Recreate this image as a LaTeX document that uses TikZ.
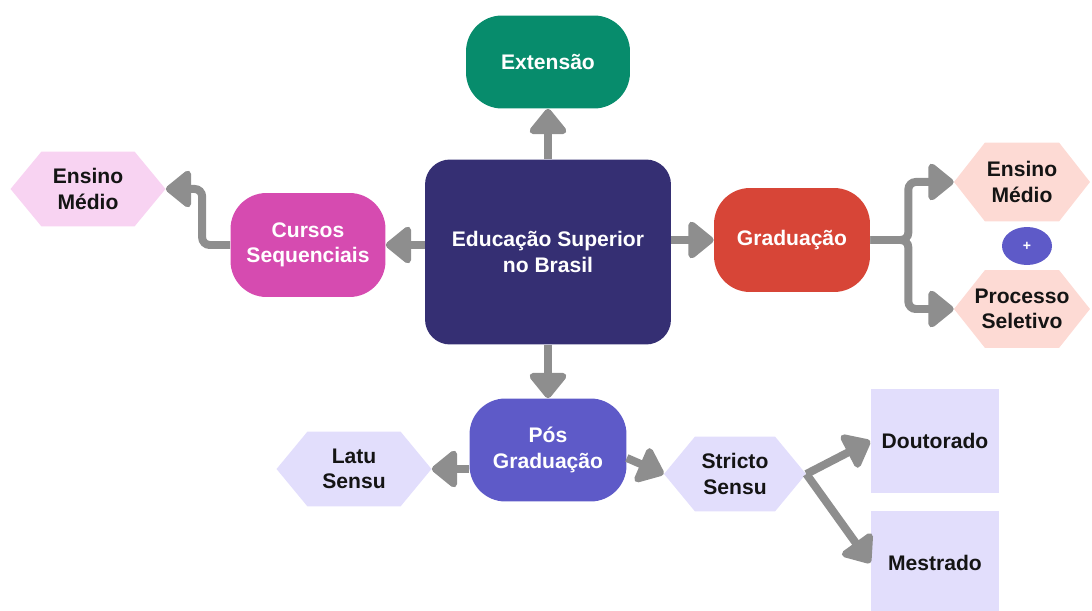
\documentclass[tikz,border=0pt]{standalone}
\usepackage{fontspec}
\setmainfont{Liberation Sans}
\usetikzlibrary{arrows.meta, shapes.geometric}
\definecolor{extgreen}{HTML}{078C6C}
\definecolor{basenavy}{HTML}{352F73}
\definecolor{cursopink}{HTML}{D64BB0}
\definecolor{gradred}{HTML}{D74537}
\definecolor{posviolet}{HTML}{5E5AC8}
\definecolor{hexpink}{HTML}{F8D3F2}
\definecolor{hexsalmon}{HTML}{FDDAD4}
\definecolor{hexlilac}{HTML}{E2DEFC}
\definecolor{arrowgray}{HTML}{8E8E8E}
\definecolor{ink}{HTML}{141414}
\tikzset{
    every node/.style={font=\fontsize{12}{14.5}\selectfont\bfseries, align=center},
    blob/.style={rectangle, rounded corners=0.72cm, text=white},
    hex/.style={rectangle, inner sep=0pt, text=ink, minimum width=3.1cm,
    	minimum height=1.5cm,
    	path picture={\fill[#1] (path picture bounding box.west)
    	  -- ([xshift=0.62cm]path picture bounding box.north west)
    	  -- ([xshift=-0.62cm]path picture bounding box.north east)
    	  -- (path picture bounding box.east)
    	  -- ([xshift=-0.62cm]path picture bounding box.south east)
    	  -- ([xshift=0.62cm]path picture bounding box.south west) -- cycle;}},
    card/.style={rectangle, fill=hexlilac, text=ink, minimum width=2.58cm,
    	minimum height=2.1cm},
    arr/.style={draw=arrowgray, line width=0.16cm,
    	-{Triangle[length=0.55cm, width=0.85cm, round]}}
}

\begin{document}
\begin{tikzpicture}[x=0.02cm, y=-0.02cm]
  \useasboundingbox (0,0) rectangle (1092,611);
  \node (ext) [blob, fill=extgreen, minimum width=3.28cm, minimum height=1.86cm] at (548,62) {Extensão};
  \node (edu) [blob, fill=basenavy, rounded corners=0.5cm, minimum width=4.92cm, minimum height=3.7cm] at (548,252) {Educação Superior\\no Brasil};
  \node (cursos) [blob, fill=cursopink, minimum width=3.1cm, minimum height=2.08cm] at (308,245) {Cursos\\Sequenciais};
  \node (grad) [blob, fill=gradred, minimum width=3.12cm, minimum height=2.08cm] at (792,240) {Graduação};
  \node (pos) [blob, fill=posviolet, minimum width=3.14cm, minimum height=2.06cm] at (548,450) {Pós\\Graduação};
  \node (ens_l) [hex=hexpink] at (88,189) {Ensino\\Médio};
  \node (ens_r) [hex=hexsalmon, minimum width=2.72cm, minimum height=1.58cm] at (1022,182) {Ensino\\Médio};
  \node (plus) [ellipse, fill=posviolet, text=white, minimum width=1cm, minimum height=0.76cm, font=\footnotesize\bfseries] at (1027,246) {+};
  \node (proc) [hex=hexsalmon, minimum width=2.72cm, minimum height=1.56cm] at (1022,309) {Processo\\Seletivo};
  \node (latu) [hex=hexlilac] at (354,469) {Latu\\Sensu};
  \node (stricto) [hex=hexlilac, minimum width=2.84cm] at (735,474) {Stricto\\Sensu};
  \node (dout) [card] at (935,441) {Doutorado};
  \node (mest) [card] at (935,563) {Mestrado};

  \draw [arr] (edu.north) -- (ext.south);
  \draw [arr] (edu.west |- cursos) -- (cursos.east);
  \draw [arr] (edu.east |- grad) -- (grad.west);
  \draw [arr] (edu.south) -- (pos.north);
  \draw [arr, rounded corners=0.15cm] (cursos.west) -- ++(-28,0) |- (ens_l.east);
  \draw [arr, rounded corners=0.15cm] (grad.east) -- ++(38,0) |- (ens_r.west);
  \draw [arr, rounded corners=0.15cm] (grad.east) -- ++(38,0) |- (proc.west);
  \draw [arr] (pos.west |- latu) -- (latu.east);
  \draw [arr] ([yshift=-0.16cm]pos.east) -- (stricto.west);
  \draw [arr] (stricto.east) -- (dout.west);
  \draw [arr] (stricto.east) -- (mest.west);
\end{tikzpicture}
\end{document}
